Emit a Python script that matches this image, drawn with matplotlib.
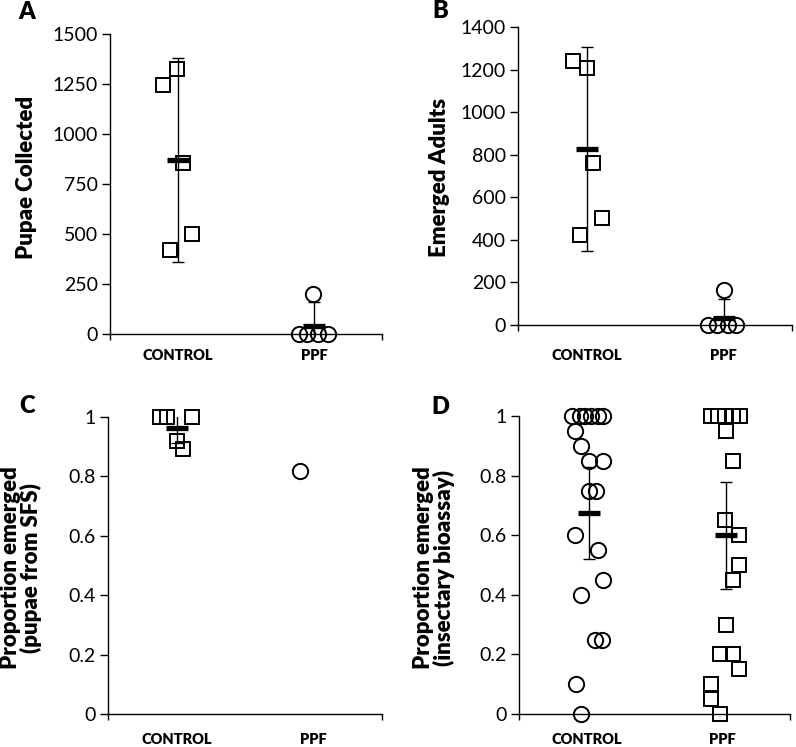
import matplotlib
matplotlib.use('Agg')
import matplotlib.pyplot as plt

plt.rcParams['font.family'] = ['Lato', 'DejaVu Sans']

W, H = 796, 747
DPI = 100

categories = ['CONTROL', 'PPF']

# ---- Panel A: Pupae Collected ----
a_ctrl_x = [0.39, 0.49, 0.54, 0.60, 0.44]
a_ctrl_y = [1245, 1325, 855, 500, 420]
a_ppf_x = [1.39, 1.45, 1.53, 1.60, 1.49]
a_ppf_y = [0, 0, 0, 0, 200]
a_means = [870, 40]
a_errs = [512, 120]
a_yticks = [0, 250, 500, 750, 1000, 1250, 1500]

# ---- Panel B: Emerged Adults ----
b_ctrl_x = [0.40, 0.50, 0.55, 0.61, 0.45]
b_ctrl_y = [1240, 1207, 761, 503, 423]
b_ppf_x = [1.39, 1.45, 1.53, 1.59, 1.50]
b_ppf_y = [0, 0, 0, 0, 165]
b_means = [827, 33]
b_errs = [477, 90]
b_yticks = [0, 200, 400, 600, 800, 1000, 1200, 1400]

# ---- Panel C: Proportion emerged (pupae from SFS) ----
c_ctrl_x = [0.38, 0.43, 0.61, 0.50, 0.55]
c_ctrl_y = [1.0, 1.0, 1.0, 0.919, 0.892]
c_ppf_x = [1.40]
c_ppf_y = [0.818]
c_means = [0.963]
c_errs = [0.05]

# ---- Panel D: Proportion emerged (insectary bioassay) ----
d_ctrl_x = [0.39, 0.45, 0.49, 0.53, 0.58, 0.62,
            0.41, 0.46, 0.52, 0.62, 0.52, 0.57, 0.41, 0.58,
            0.62, 0.46, 0.56, 0.61, 0.42, 0.46]
d_ctrl_y = [1.0, 1.0, 1.0, 1.0, 1.0, 1.0,
            0.95, 0.90, 0.85, 0.85, 0.75, 0.75, 0.60, 0.55,
            0.45, 0.40, 0.25, 0.25, 0.10, 0.0]
d_ppf_x = [1.42, 1.47, 1.52, 1.58, 1.63,
           1.53, 1.58, 1.52, 1.62, 1.62, 1.58, 1.53, 1.48,
           1.58, 1.62, 1.42, 1.42, 1.48]
d_ppf_y = [1.0, 1.0, 1.0, 1.0, 1.0,
           0.95, 0.85, 0.65, 0.60, 0.50, 0.45, 0.30, 0.20,
           0.20, 0.15, 0.10, 0.05, 0.0]
d_means = [0.674, 0.60]
d_errs = [0.155, 0.18]
prop_yticks = [0, 0.2, 0.4, 0.6, 0.8, 1.0]
prop_ylabels = ['0', '0.2', '0.4', '0.6', '0.8', '1']

BOLD = 'heavy'

fig = plt.figure(figsize=(W / DPI, H / DPI), dpi=DPI)


def px_axes(left, right, top, bottom):
    return fig.add_axes([left / W, 1 - bottom / H, (right - left) / W, (bottom - top) / H])


def style(ax, ylim, yticks, ylabels, catpad):
    ax.set_xlim(0, 2)
    ax.set_ylim(*ylim)
    for s in ['top', 'right']:
        ax.spines[s].set_visible(False)
    for s in ['left', 'bottom']:
        ax.spines[s].set_linewidth(1.0)
    ax.set_yticks(yticks)
    ax.set_yticklabels(ylabels, fontsize=14)
    ax.tick_params(axis='y', direction='out', length=5.8, width=1.0, pad=3)
    ax.set_xticks([0, 2])
    ax.set_xticklabels(['', ''])
    ax.tick_params(axis='x', which='major', direction='out', length=4.5, width=1.0)
    ax.set_xticks([0.5, 1.5], minor=True)
    ax.set_xticklabels(categories, minor=True, fontsize=10.5, fontweight=BOLD)
    ax.tick_params(axis='x', which='minor', length=0, pad=catpad)


def points(ax, x, y, marker, ms):
    ax.plot(x, y, linestyle='none', marker=marker, markersize=ms,
            markerfacecolor='none', markeredgecolor='black', markeredgewidth=1.4,
            clip_on=False, zorder=3)


def summary(ax, xs, means, errs):
    ax.errorbar(xs, means, yerr=errs, fmt='none', ecolor='black', elinewidth=1.0,
                capsize=4, capthick=1.0, zorder=2)
    ax.plot(xs, means, linestyle='none', marker='_', markersize=16.5,
            markeredgewidth=3.8, color='black', zorder=4, clip_on=False)


# Panel A
axA = px_axes(110, 382, 34, 334)
style(axA, (0, 1500), a_yticks, [str(v) for v in a_yticks], 11)
points(axA, a_ctrl_x, a_ctrl_y, 's', 9.5)
points(axA, a_ppf_x, a_ppf_y, 'o', 11)
summary(axA, [0.5, 1.5], a_means, a_errs)

# Panel B
axB = px_axes(518, 792, 27, 325)
style(axB, (0, 1400), b_yticks, [str(v) for v in b_yticks], 17)
points(axB, b_ctrl_x, b_ctrl_y, 's', 9.5)
points(axB, b_ppf_x, b_ppf_y, 'o', 11)
summary(axB, [0.5, 1.5], b_means, b_errs)

# Panel C
axC = px_axes(108, 382, 417, 714)
style(axC, (0, 1), prop_yticks, prop_ylabels, 14)
points(axC, c_ctrl_x, c_ctrl_y, 's', 9.5)
points(axC, c_ppf_x, c_ppf_y, 'o', 11)
summary(axC, [0.5], c_means, c_errs)

# Panel D
axD = px_axes(519, 790, 416, 714)
style(axD, (0, 1), prop_yticks, prop_ylabels, 14)
points(axD, d_ctrl_x, d_ctrl_y, 'o', 11)
points(axD, d_ppf_x, d_ppf_y, 's', 9.5)
summary(axD, [0.52, 1.53], d_means, d_errs)


def ftext(x, y, s, **kw):
    fig.text(x / W, 1 - y / H, s, ha='center', va='center', **kw)


ftext(27, 177, 'Pupae Collected', rotation=90, fontsize=16, fontweight=BOLD)
ftext(440, 177, 'Emerged Adults', rotation=90, fontsize=16, fontweight=BOLD)
ftext(21, 568, 'Proportion emerged\n(pupae from SFS)', rotation=90, fontsize=16,
      fontweight=BOLD, multialignment='center', linespacing=0.95)
ftext(434, 568, 'Proportion emerged\n(insectary bioassay)', rotation=90, fontsize=16,
      fontweight=BOLD, multialignment='center', linespacing=0.95)

ftext(27, 12, 'A', fontsize=17, fontweight=BOLD)
ftext(440, 11, 'B', fontsize=17, fontweight=BOLD)
ftext(27, 406, 'C', fontsize=17, fontweight=BOLD)
ftext(440, 407, 'D', fontsize=17, fontweight=BOLD)

fig.savefig('out.png', dpi=DPI)
